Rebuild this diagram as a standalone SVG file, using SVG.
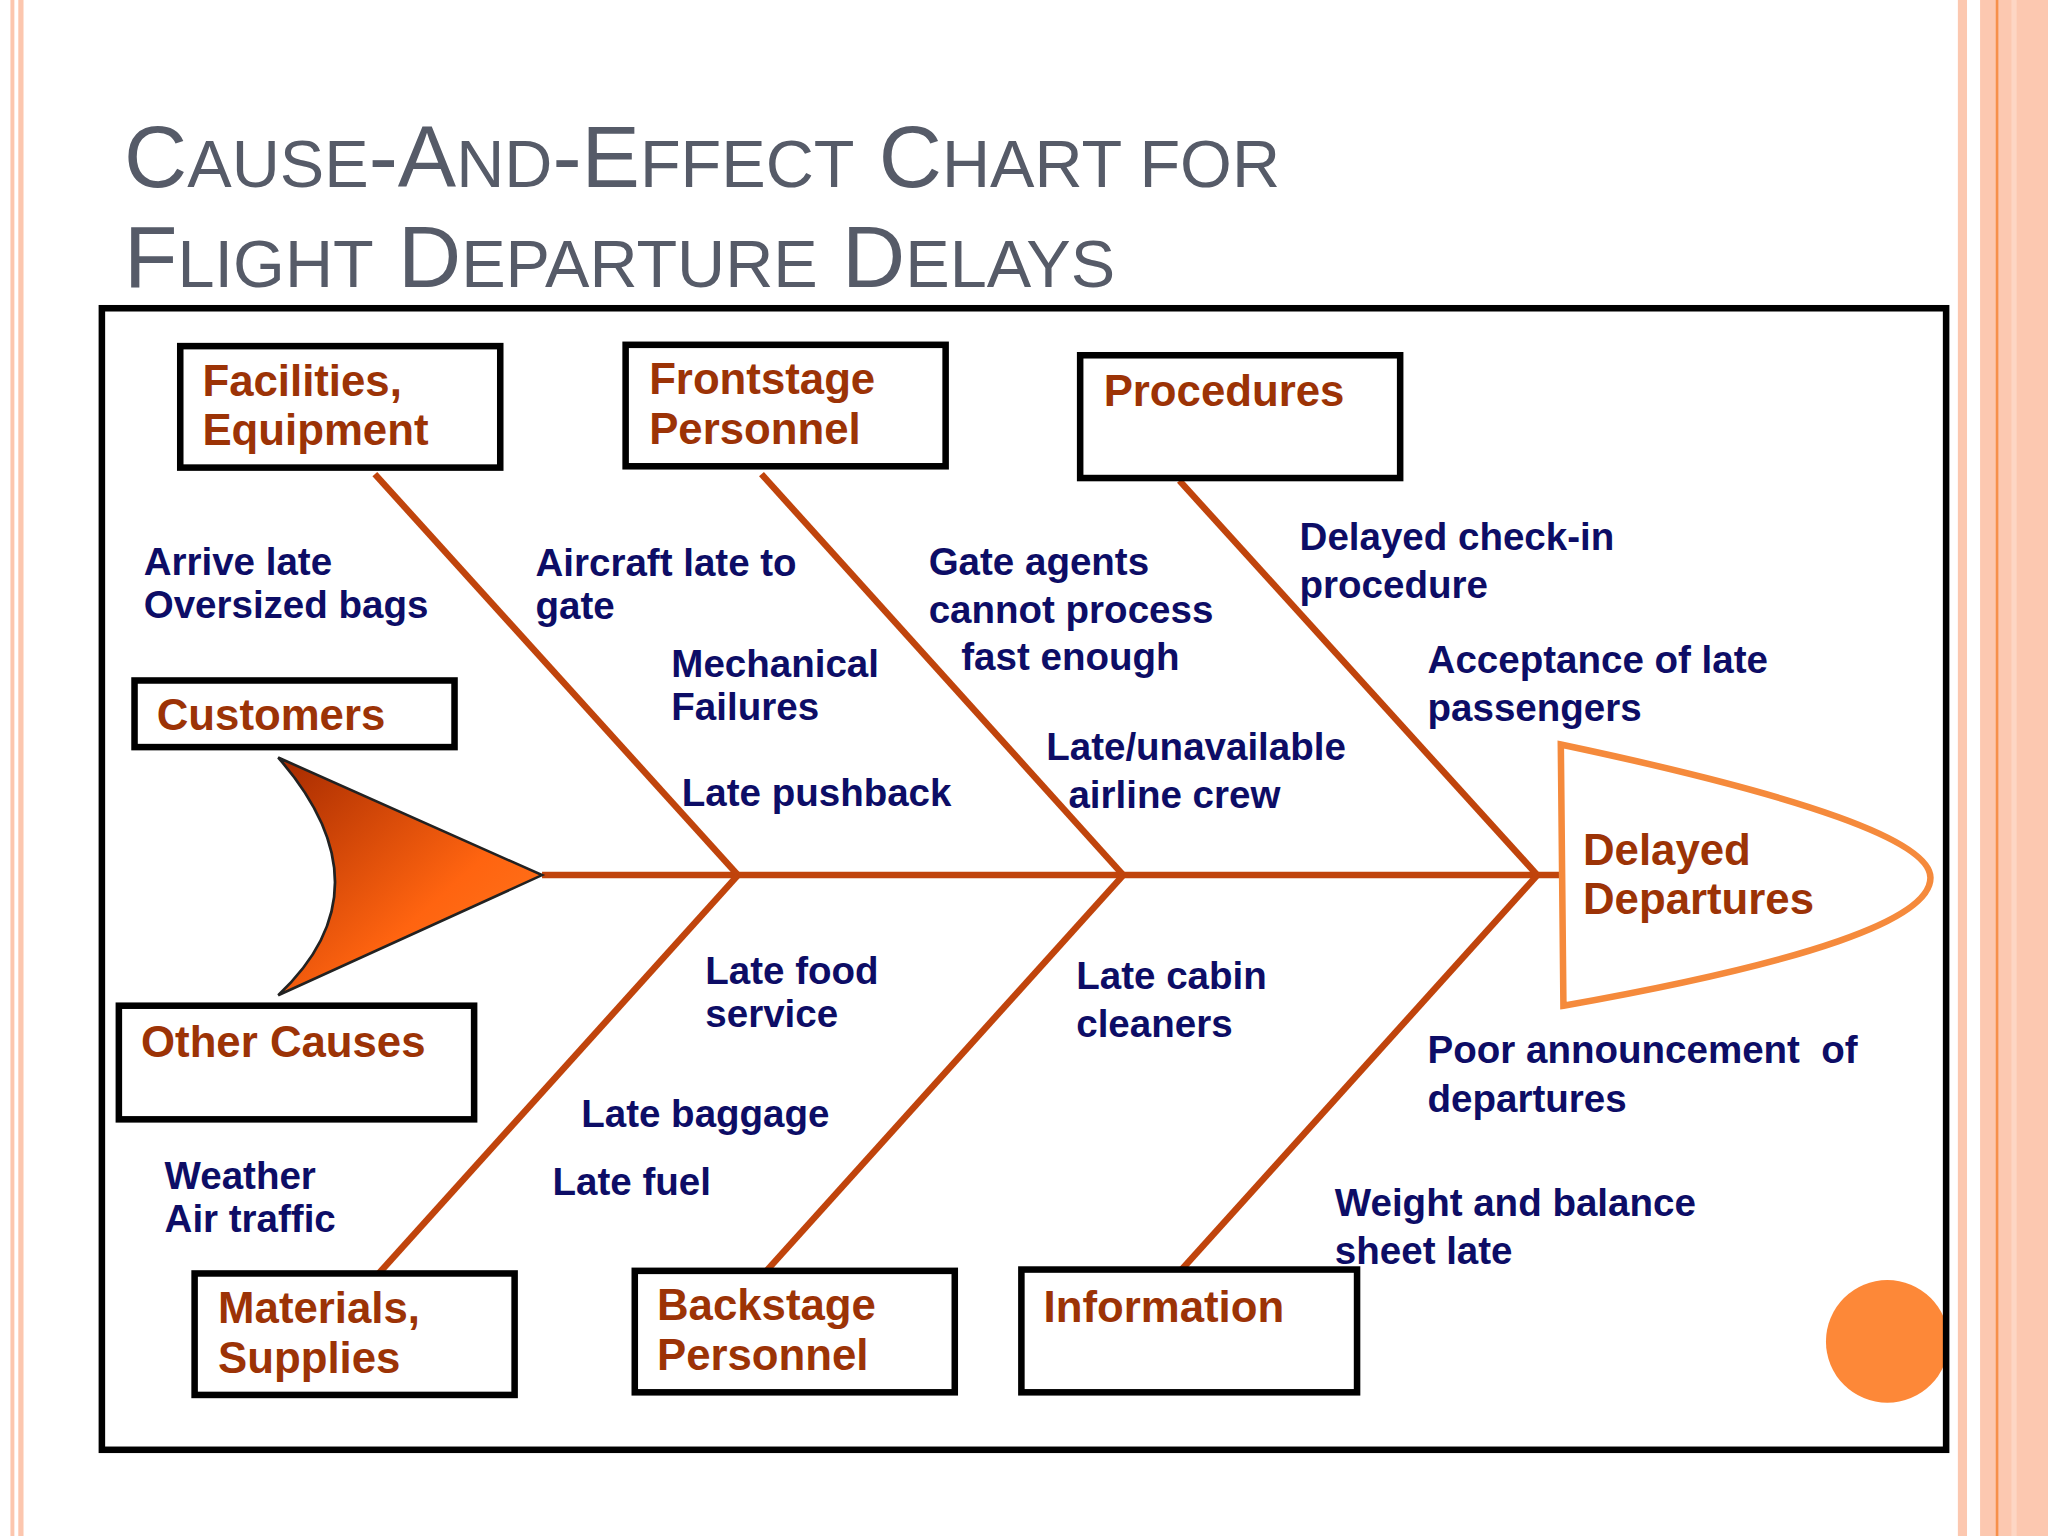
<svg xmlns="http://www.w3.org/2000/svg" width="2048" height="1536" viewBox="0 0 2048 1536">
<defs>
<style>
.t{font-family:"Liberation Sans",Arial,sans-serif;font-weight:bold;font-size:29.5px;fill:#0d0d66}
.b{font-family:"Liberation Sans",Arial,sans-serif;font-weight:bold;font-size:33.5px;fill:#9c3306}
.box{fill:#fff;stroke:#000;stroke-width:5}
.bone{stroke:#c0440c;stroke-width:5;fill:none}
.ti{font-family:"Liberation Sans",Arial,sans-serif;fill:#565b68;font-size:67px}
.ti tspan.s{font-size:51px}
</style>
<linearGradient id="g" x1="0" y1="0" x2="1" y2="1">
<stop offset="0" stop-color="#a52a00"/><stop offset="0.6" stop-color="#ff6410"/><stop offset="1" stop-color="#ff7a20"/>
</linearGradient>
</defs>
<rect width="2048" height="1536" fill="#fff"/>
<g transform="scale(1.30612)">
<rect x="8" y="0" width="3" height="1176" fill="#fcc6ae"/>
<rect x="14" y="0" width="4" height="1176" fill="#fcc6ae"/>
<rect x="1499" y="0" width="7" height="1176" fill="#fcc8b0"/>
<rect x="1516" y="0" width="52" height="1176" fill="#fcc8b0"/>
<rect x="1528" y="0" width="2" height="1176" fill="#f7904a"/>
<rect x="1540" y="0" width="4" height="1176" fill="#fdd6c4"/>
<text class="ti" x="95" y="143">C<tspan class="s">AUSE</tspan>-A<tspan class="s">ND</tspan>-E<tspan class="s">FFECT</tspan> C<tspan class="s">HART FOR</tspan></text>
<text class="ti" x="95" y="220">F<tspan class="s">LIGHT</tspan> D<tspan class="s">EPARTURE</tspan> D<tspan class="s">ELAYS</tspan></text>
<circle cx="1445" cy="1027" r="47" fill="#fd8838"/>
<rect x="78" y="236" width="1412" height="874" fill="none" stroke="#000" stroke-width="5"/>
<g id="connectors">
<line class="bone" x1="415" y1="670" x2="1195" y2="670"/>
<line class="bone" x1="287" y1="363" x2="565" y2="670"/>
<line class="bone" x1="583" y1="363" x2="860" y2="670"/>
<line class="bone" x1="903" y1="368" x2="1177" y2="670"/>
<line class="bone" x1="565" y1="670" x2="290" y2="975"/>
<line class="bone" x1="860" y1="670" x2="585" y2="975"/>
<line class="bone" x1="1177" y1="670" x2="902" y2="975"/>
</g>
<g id="tail"><path d="M213,580 L415,670 L213,762 Q300,680 213,580 Z" fill="url(#g)" stroke="#222" stroke-width="2"/></g>
<g id="effect"><path d="M1195,570 Q1478,630 1478,672 Q1478,720 1197,770 Z" fill="#fff" stroke="#f58a3c" stroke-width="5"/>
<text class="b" x="1212" y="662">Delayed</text><text class="b" x="1212" y="700">Departures</text></g>
<g id="facilities"><rect class="box" x="138" y="265" width="245" height="93"/><text class="b" x="155" y="303">Facilities,</text><text class="b" x="155" y="341">Equipment</text></g>
<g id="frontstage"><rect class="box" x="479" y="264" width="245" height="93"/><text class="b" x="497" y="302">Frontstage</text><text class="b" x="497" y="340">Personnel</text></g>
<g id="procedures"><rect class="box" x="827" y="272" width="245" height="94"/><text class="b" x="845" y="311">Procedures</text></g>
<g id="customers"><rect class="box" x="103" y="521" width="245" height="51"/><text class="b" x="120" y="559">Customers</text></g>
<g id="other"><rect class="box" x="91" y="770" width="272" height="87"/><text class="b" x="108" y="809">Other Causes</text></g>
<g id="materials"><rect class="box" x="149" y="975" width="245" height="93"/><text class="b" x="167" y="1013">Materials,</text><text class="b" x="167" y="1051">Supplies</text></g>
<g id="backstage"><rect class="box" x="486" y="973" width="245" height="93"/><text class="b" x="503" y="1011">Backstage</text><text class="b" x="503" y="1049">Personnel</text></g>
<g id="information"><rect class="box" x="782" y="972" width="257" height="94"/><text class="b" x="799" y="1012">Information</text></g>
<g id="labels">
<text class="t" x="110" y="440">Arrive late</text><text class="t" x="110" y="473">Oversized bags</text>
<text class="t" x="410" y="441">Aircraft late to</text><text class="t" x="410" y="474">gate</text>
<text class="t" x="514" y="518">Mechanical</text><text class="t" x="514" y="551">Failures</text>
<text class="t" x="522" y="617">Late pushback</text>
<text class="t" x="711" y="440">Gate agents</text><text class="t" x="711" y="477">cannot process</text><text class="t" x="736" y="513">fast enough</text>
<text class="t" x="801" y="582">Late/unavailable</text><text class="t" x="818" y="619">airline crew</text>
<text class="t" x="995" y="421">Delayed check-in</text><text class="t" x="995" y="458">procedure</text>
<text class="t" x="1093" y="515">Acceptance of late</text><text class="t" x="1093" y="552">passengers</text>
<text class="t" x="540" y="753">Late food</text><text class="t" x="540" y="786">service</text>
<text class="t" x="824" y="757">Late cabin</text><text class="t" x="824" y="794">cleaners</text>
<text class="t" x="445" y="863">Late baggage</text>
<text class="t" x="423" y="915">Late fuel</text>
<text class="t" x="126" y="910">Weather</text><text class="t" x="126" y="943">Air traffic</text>
<text class="t" x="1093" y="814" xml:space="preserve">Poor announcement  of</text><text class="t" x="1093" y="851">departures</text>
<text class="t" x="1022" y="931">Weight and balance</text><text class="t" x="1022" y="968">sheet late</text>
</g>
</g>
</svg>
